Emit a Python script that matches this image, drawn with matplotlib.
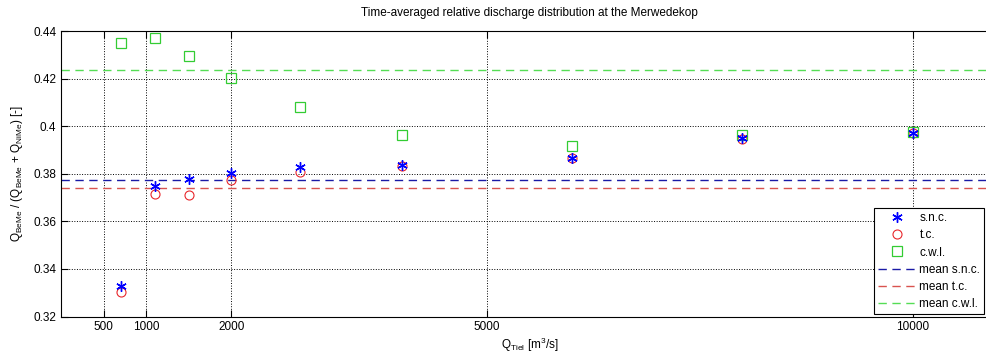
import matplotlib
matplotlib.use('Agg')
import matplotlib.pyplot as plt
import numpy as np

plt.rcParams['font.family'] = ['Liberation Sans', 'DejaVu Sans']
plt.rcParams['mathtext.fontset'] = 'custom'
plt.rcParams['mathtext.rm'] = 'Liberation Sans'
plt.rcParams['mathtext.it'] = 'Liberation Sans'

# discharge at Tiel [m3/s]
q_tiel = [700, 1100, 1500, 2000, 2800, 4000, 6000, 8000, 10000]
snc = [0.333, 0.375, 0.3778, 0.3803, 0.3827, 0.3838, 0.3869, 0.3952, 0.3972]
tc = [0.3304, 0.3717, 0.3713, 0.3775, 0.3806, 0.3834, 0.3869, 0.3948, 0.3970]
cwl = [0.4352, 0.4371, 0.4297, 0.4205, 0.4082, 0.3965, 0.3919, 0.3962, 0.3975]
mean_snc = 0.3773
mean_tc = 0.3740
mean_cwl = 0.4236

xticks = [500, 1000, 2000, 5000, 10000]
yticks = [0.32, 0.34, 0.36, 0.38, 0.40, 0.42, 0.44]
ylabels = ['0.32', '0.34', '0.36', '0.38', '0.4', '0.42', '0.44']

fig = plt.figure(figsize=(9.87, 3.52), dpi=100)
ax = fig.add_axes([61/987, 1-316.5/352, (998-61)/987, (316.5-31.3)/352])

blue = '#0000ff'
red = '#e8262b'
green = '#33cc33'

ax.plot(q_tiel, snc, marker=(6, 2, 0), ls='none', color=blue, ms=7.5, mew=1.0, label='s.n.c.', zorder=4)
ax.plot(q_tiel, tc, 'o', mfc='none', mec=red, ms=6.5, mew=0.8, label='t.c.', zorder=3)
ax.plot(q_tiel, cwl, 's', mfc='none', mec=green, ms=7, mew=0.9, label='c.w.l.', zorder=3)
ax.axhline(mean_snc, color='#1a1aa6', ls=(0, (6, 4)), lw=1.0, label='mean s.n.c.')
ax.axhline(mean_tc, color='#d9534f', ls=(0, (6, 4)), lw=1.0, label='mean t.c.')
ax.axhline(mean_cwl, color='#55dd55', ls=(0, (6, 4)), lw=1.0, label='mean c.w.l.')

ax.set_xlim(0, 11000)
ax.set_ylim(0.32, 0.44)
ax.set_xticks(xticks)
ax.set_xticklabels([str(v) for v in xticks])
ax.set_yticks(yticks)
ax.set_yticklabels(ylabels)
ax.grid(True, color='black', ls=':', lw=0.7)
ax.tick_params(direction='in', top=True, right=True, labelsize=8.5, length=5, width=0.8)
for sp in ax.spines.values():
    sp.set_linewidth(0.8)

ax.set_title('Time-averaged relative discharge distribution at the Merwedekop', fontsize=8.5, pad=11)
ax.set_xlabel(r'Q$_{\mathrm{Tiel}}$ [m$^3$/s]', fontsize=8.5, labelpad=2)
ax.set_ylabel(r'Q$_{\mathrm{BeMe}}$ / (Q$_{\mathrm{BeMe}}$ + Q$_{\mathrm{NiMe}}$) [-]', fontsize=8.5, labelpad=6)

leg = ax.legend(loc='upper left', bbox_to_anchor=(874/987, 1-208/352), bbox_transform=fig.transFigure,
                fontsize=8.5, fancybox=False, edgecolor='black', framealpha=1, handlelength=3.2,
                labelspacing=0.44, borderaxespad=0, handletextpad=0.3, borderpad=0.35)
leg.get_frame().set_linewidth(0.8)

fig.savefig('out.png', dpi=100)
